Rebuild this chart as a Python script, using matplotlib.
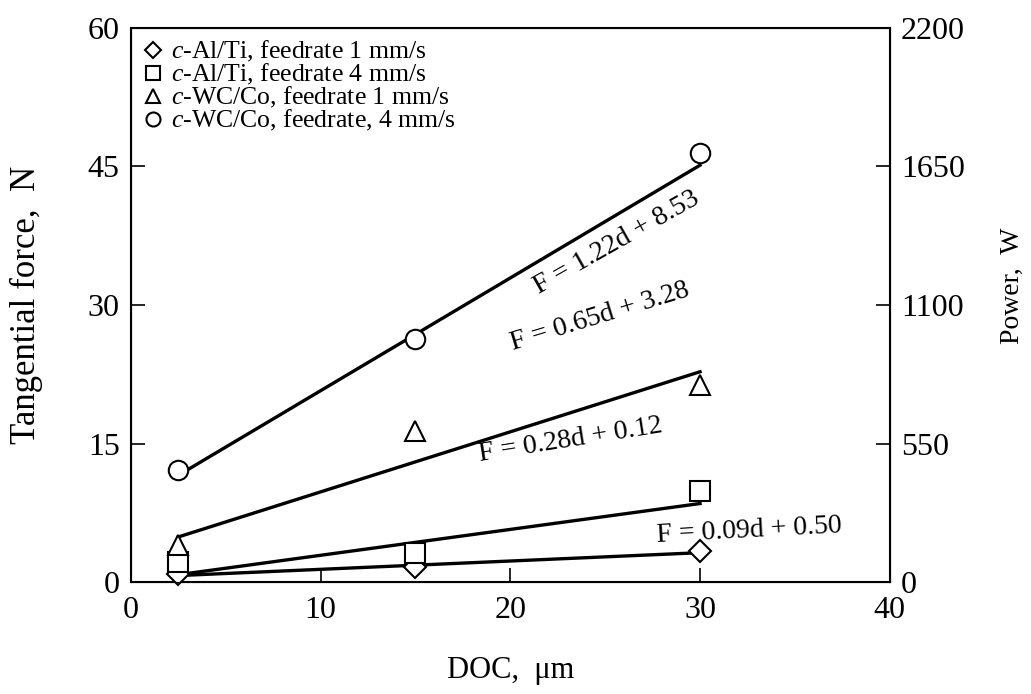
import matplotlib
matplotlib.use("Agg")
import matplotlib.pyplot as plt
import numpy as np

plt.rcParams['font.family'] = ['Liberation Serif', 'DejaVu Serif']
plt.rcParams['mathtext.fontset'] = 'custom'
plt.rcParams['mathtext.rm'] = 'Liberation Serif'
plt.rcParams['mathtext.it'] = 'Liberation Serif:italic'

# DOC (um)
doc = [2.5, 15, 30]

# tangential force readings (N)
alti_f1 = [0.9, 1.6, 3.4]
alti_f4 = [2.2, 3.2, 9.9]
wcco_f1 = [4.0, 16.4, 21.3]
wcco_f4 = [12.2, 26.3, 46.5]

# linear fits F = a*d + b
fits = [(0.09, 0.50), (0.28, 0.12), (0.65, 3.28), (1.22, 8.53)]
fit_text = ["F = 0.09d + 0.50", "F = 0.28d + 0.12", "F = 0.65d + 3.28", "F = 1.22d + 8.53"]
fit_pos = [(32.6, 5.6, 3), (23.2, 15.4, 9), (24.7, 28.7, 17), (25.6, 36.7, 29.5)]

labels = ["$\\it{c}$-Al/Ti, feedrate 1 mm/s",
          "$\\it{c}$-Al/Ti, feedrate 4 mm/s",
          "$\\it{c}$-WC/Co, feedrate 1 mm/s",
          "$\\it{c}$-WC/Co, feedrate, 4 mm/s"]
markers = ['D', 's', '^', 'o']
msizes = [11, 14, 14, 14]
series = [alti_f1, alti_f4, wcco_f1, wcco_f4]

fig, ax = plt.subplots(figsize=(10.31, 6.94), dpi=100)
fig.subplots_adjust(left=0.127, right=0.863, bottom=0.161, top=0.960)

d_line = np.array([2.5, 30])
for (a, b) in fits:
    ax.plot(d_line, a * d_line + b, color='black', lw=2.4, zorder=2)

handles = []
for y, m, ms, lab in zip(series, markers, msizes, labels):
    h, = ax.plot(doc, y, linestyle='none', marker=m, markersize=ms,
                 markerfacecolor='white', markeredgecolor='black',
                 markeredgewidth=1.5, label=lab, zorder=3, clip_on=False)
    handles.append(h)

for txt, (x, y, r) in zip(fit_text, fit_pos):
    ax.text(x, y, txt, fontsize=20, rotation=r, ha='center', va='center',
            rotation_mode='anchor')

ax.set_xlim(0, 40)
ax.set_ylim(0, 60)
ax.set_xticks([0, 10, 20, 30, 40])
ax.set_yticks([0, 15, 30, 45, 60])
ax.tick_params(direction='in', length=10, width=1.2, labelsize=23, pad=8)
ax.tick_params(axis='x', pad=10)
for s in ax.spines.values():
    s.set_linewidth(1.5)

ax.set_xlabel("DOC,  μm", fontsize=22, labelpad=22)
ax.set_ylabel("Tangential force,  N", fontsize=25, labelpad=32)

ax2 = ax.twinx()
ax2.set_ylim(0, 2200)
ax2.set_yticks([0, 550, 1100, 1650, 2200])
ax2.tick_params(direction='in', length=10, width=1.2, labelsize=23, pad=8)
ax2.set_ylabel("Power,  W", fontsize=20)
ax2.yaxis.set_label_coords(1.145, 0.535)

leg = ax.legend(handles=handles, loc='upper left', frameon=False, fontsize=18.5,
                handlelength=0.6, handletextpad=0.4, labelspacing=-0.08,
                markerscale=0.72, borderaxespad=0.3, bbox_to_anchor=(-0.005, 1.012))

fig.savefig("out.png", dpi=100)
